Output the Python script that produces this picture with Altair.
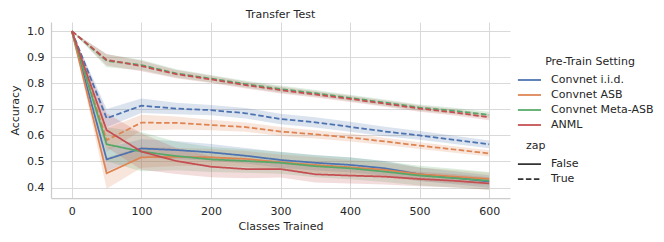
import altair as alt
import pandas as pd

classes = [0, 50, 100, 150, 200, 250, 300, 350, 400, 450, 500, 550, 600]
settings = ["Convnet i.i.d.", "Convnet ASB", "Convnet Meta-ASB", "ANML"]
colors = ["#4C72B0", "#DD8452", "#55A868", "#C44E52"]

# zap = False (solid)
iid_false = [1.0, 0.508, 0.550, 0.544, 0.535, 0.522, 0.506, 0.495, 0.487, 0.474, 0.451, 0.438, 0.423]
asb_false = [1.0, 0.455, 0.516, 0.518, 0.516, 0.510, 0.497, 0.487, 0.478, 0.468, 0.451, 0.442, 0.433]
meta_false = [1.0, 0.566, 0.538, 0.521, 0.508, 0.502, 0.495, 0.482, 0.474, 0.461, 0.446, 0.436, 0.426]
anml_false = [1.0, 0.620, 0.538, 0.502, 0.480, 0.471, 0.471, 0.451, 0.446, 0.442, 0.433, 0.426, 0.416]
# zap = True (dashed)
iid_true = [1.0, 0.666, 0.714, 0.703, 0.697, 0.685, 0.663, 0.650, 0.633, 0.615, 0.600, 0.583, 0.566]
asb_true = [1.0, 0.582, 0.649, 0.648, 0.640, 0.632, 0.615, 0.604, 0.592, 0.577, 0.561, 0.546, 0.531]
meta_true = [1.0, 0.886, 0.870, 0.838, 0.818, 0.797, 0.778, 0.762, 0.744, 0.726, 0.707, 0.694, 0.679]
anml_true = [1.0, 0.890, 0.866, 0.835, 0.815, 0.793, 0.774, 0.757, 0.740, 0.722, 0.703, 0.688, 0.670]

# confidence-band half widths
iid_false_ci = [0.0, 0.045, 0.035, 0.035, 0.032, 0.030, 0.030, 0.030, 0.028, 0.028, 0.026, 0.025, 0.024]
asb_false_ci = [0.0, 0.060, 0.040, 0.035, 0.032, 0.030, 0.030, 0.030, 0.028, 0.028, 0.026, 0.025, 0.024]
meta_false_ci = [0.0, 0.065, 0.075, 0.055, 0.048, 0.045, 0.042, 0.042, 0.042, 0.040, 0.038, 0.036, 0.034]
anml_false_ci = [0.0, 0.065, 0.070, 0.050, 0.040, 0.035, 0.032, 0.032, 0.030, 0.030, 0.028, 0.026, 0.024]
iid_true_ci = [0.0, 0.035, 0.028, 0.022, 0.020, 0.020, 0.020, 0.020, 0.019, 0.018, 0.017, 0.016, 0.015]
asb_true_ci = [0.0, 0.045, 0.030, 0.025, 0.020, 0.018, 0.017, 0.016, 0.015, 0.014, 0.013, 0.012, 0.012]
meta_true_ci = [0.0, 0.025, 0.020, 0.016, 0.014, 0.013, 0.013, 0.012, 0.012, 0.012, 0.012, 0.012, 0.012]
anml_true_ci = [0.0, 0.022, 0.020, 0.016, 0.014, 0.013, 0.013, 0.012, 0.012, 0.012, 0.012, 0.012, 0.012]

series = [
    ("Convnet i.i.d.", "False", iid_false, iid_false_ci),
    ("Convnet i.i.d.", "True", iid_true, iid_true_ci),
    ("Convnet ASB", "False", asb_false, asb_false_ci),
    ("Convnet ASB", "True", asb_true, asb_true_ci),
    ("Convnet Meta-ASB", "False", meta_false, meta_false_ci),
    ("Convnet Meta-ASB", "True", meta_true, meta_true_ci),
    ("ANML", "False", anml_false, anml_false_ci),
    ("ANML", "True", anml_true, anml_true_ci),
]

rows = []
for name, zap, vals, ci in series:
    for c, v, h in zip(classes, vals, ci):
        rows.append({"classes": c, "acc": v, "lo": v - h, "hi": v + h,
                     "setting": name, "zap": zap, "grp": name + "|" + zap})
df = pd.DataFrame(rows)

text_color = "#262626"
xscale = alt.Scale(domain=[-30, 630], nice=False, zero=False)
yscale = alt.Scale(domain=[0.36, 1.035], nice=False, zero=False)
xaxis = alt.Axis(values=[0, 100, 200, 300, 400, 500, 600], title="Classes Trained")
yaxis = alt.Axis(values=[0.4, 0.5, 0.6, 0.7, 0.8, 0.9, 1.0], format=".1f", title="Accuracy")
cscale = alt.Scale(domain=settings, range=colors)

band = alt.Chart(df).mark_area(opacity=0.2).encode(
    x=alt.X("classes:Q", scale=xscale, axis=xaxis),
    y=alt.Y("lo:Q", scale=yscale, axis=yaxis),
    y2="hi:Q",
    color=alt.Color("setting:N", scale=cscale, legend=None),
    detail="grp:N",
)

line = alt.Chart(df).mark_line(strokeWidth=1.75).encode(
    x=alt.X("classes:Q", scale=xscale, axis=xaxis),
    y=alt.Y("acc:Q", scale=yscale, axis=yaxis),
    color=alt.Color(
        "setting:N", scale=cscale,
        legend=alt.Legend(title="Pre-Train Setting", orient="none", legendX=475, legendY=34,
                          symbolType="M-2.3,0H1", symbolSize=196, symbolStrokeWidth=1.75,
                          labelOffset=9, rowPadding=2, padding=0, titlePadding=5,
                          titleAnchor="middle"),
    ),
    strokeDash=alt.StrokeDash(
        "zap:N", scale=alt.Scale(domain=["False", "True"], range=[[1, 0], [5.5, 2.5]]),
        legend=alt.Legend(title="zap", orient="none", legendX=475, legendY=118,
                          symbolType="M-2.3,0H1", symbolSize=196, symbolStrokeWidth=1.75,
                          symbolStrokeColor="#333333",
                          labelOffset=9, rowPadding=2, padding=0, titlePadding=5),
    ),
    detail="grp:N",
)

chart = alt.layer(band, line).resolve_legend(color="independent").properties(
    width=459,
    height=176,
    title=alt.Title("Transfer Test", fontSize=11, fontWeight="normal", color=text_color,
                    font="DejaVu Sans", offset=2.5, anchor="middle"),
    autosize=alt.AutoSizeParams(type="none"),
    padding={"left": 43, "top": 14, "right": 146, "bottom": 36},
).configure(
    font="DejaVu Sans",
).configure_view(
    stroke=None,
).configure_axis(
    grid=True,
    gridColor="#d9d9d9",
    gridWidth=1,
    domainColor="#cccccc",
    domainWidth=1.25,
    ticks=False,
    labelPadding=7,
    labelFontSize=11,
    labelColor=text_color,
    labelFont="DejaVu Sans",
    titleFontSize=11,
    titleFontWeight="normal",
    titleColor=text_color,
    titleFont="DejaVu Sans",
).configure_axisX(
    titlePadding=4,
).configure_axisY(
    titlePadding=6,
).configure_legend(
    labelFontSize=11,
    labelColor=text_color,
    labelFont="DejaVu Sans",
    titleFontSize=11,
    titleFontWeight="normal",
    titleColor=text_color,
    titleFont="DejaVu Sans",
)

chart.save("out.html", embed_options={"renderer": "svg", "actions": False})
